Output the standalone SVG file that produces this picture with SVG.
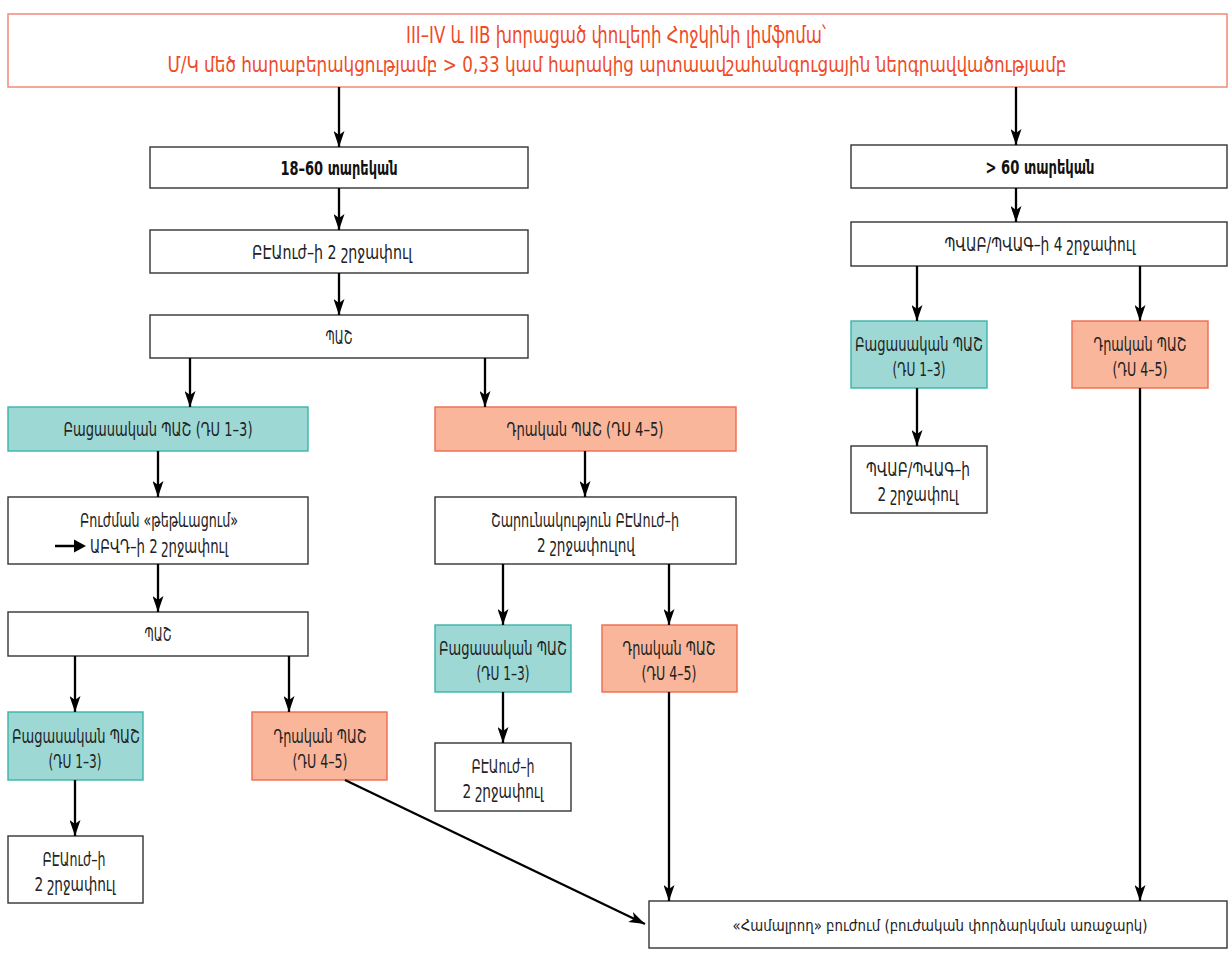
<svg xmlns="http://www.w3.org/2000/svg" width="1228" height="975" viewBox="0 0 1228 975">
<style>
text{font-family:"DejaVu Sans Condensed","DejaVu Sans","Noto Sans",sans-serif;font-size:20px;fill:#222;text-anchor:middle}
.t{fill:#ee4b28;font-size:23px}
.t2{fill:#ee4b28;font-size:21px}
.b{font-weight:bold;fill:#111;font-size:20px}
.s{font-size:16px}
.w{fill:#fff;stroke:#333;stroke-width:1.4}
.g{fill:#9dd8d4;stroke:#3ab5aa;stroke-width:1.4}
.r{fill:#f9b69b;stroke:#ef6a4c;stroke-width:1.4}
.c line{stroke:#000;stroke-width:2.3;marker-end:url(#ah)}
</style>
<defs>
<marker id="ah" viewBox="0 0 16 11" refX="16" refY="5.5" markerWidth="16" markerHeight="11" markerUnits="userSpaceOnUse" orient="auto">
<path d="M0,0 L16,5.5 L0,11 L4,5.5 Z" fill="#000"/>
</marker>
</defs>
<rect width="1228" height="975" fill="#fff"/>

<g id="title">
<rect x="8" y="14" width="1219" height="73" fill="#fff" stroke="#f08b79" stroke-width="1.5"/>
<text class="t" x="616" y="43" textLength="420" lengthAdjust="spacingAndGlyphs">III–IV և IIB խորացած փուլերի Հոջկինի լիմֆոմա՝</text>
<text class="t2" x="617" y="72" textLength="899" lengthAdjust="spacingAndGlyphs">Մ/Կ մեծ հարաբերակցությամբ &gt; 0,33 կամ հարակից արտաավշահանգուցային ներգրավվածությամբ</text>
</g>

<g id="n-18-60">
<rect class="w" x="150" y="147" width="378" height="41"/>
<text class="b" x="339" y="175" textLength="117" lengthAdjust="spacingAndGlyphs">18–60 տարեկան</text>
</g>
<g id="n-beacopp4">
<rect class="w" x="150" y="230" width="378" height="43"/>
<text x="332" y="259" textLength="160" lengthAdjust="spacingAndGlyphs">ԲԷԱուժ–ի 2 շրջափուլ</text>
</g>
<g id="n-pet1">
<rect class="w" x="150" y="315" width="378" height="43"/>
<text x="339" y="344" textLength="27" lengthAdjust="spacingAndGlyphs">ՊԱՇ</text>
</g>
<g id="n-neg1">
<rect class="g" x="8" y="407" width="300" height="44"/>
<text x="158" y="436" textLength="189" lengthAdjust="spacingAndGlyphs">Բացասական ՊԱՇ (ԴՍ 1–3)</text>
</g>
<g id="n-pos1">
<rect class="r" x="435" y="407" width="301" height="44"/>
<text x="585" y="436" textLength="157" lengthAdjust="spacingAndGlyphs">Դրական ՊԱՇ (ԴՍ 4–5)</text>
</g>
<g id="n-deesc">
<rect class="w" x="8" y="497" width="300" height="67"/>
<text x="159" y="527" textLength="158" lengthAdjust="spacingAndGlyphs">Բուժման «թեթևացում»</text>
<line x1="55" y1="546" x2="76" y2="546" stroke="#000" stroke-width="2.5"/>
<path d="M74,539.5 L86,546 L74,552.5 Z" fill="#000"/>
<text x="159" y="553" textLength="138" lengthAdjust="spacingAndGlyphs">ԱԲՎԴ–ի 2 շրջափուլ</text>
</g>
<g id="n-pet2">
<rect class="w" x="8" y="612" width="300" height="44"/>
<text x="158" y="641" textLength="27" lengthAdjust="spacingAndGlyphs">ՊԱՇ</text>
</g>
<g id="n-neg2">
<rect class="g" x="8" y="712" width="135" height="68"/>
<text x="76" y="743" textLength="128" lengthAdjust="spacingAndGlyphs">Բացասական ՊԱՇ</text>
<text x="75" y="768" textLength="53" lengthAdjust="spacingAndGlyphs">(ԴՍ 1–3)</text>
</g>
<g id="n-pos2">
<rect class="r" x="252" y="712" width="135" height="68"/>
<text x="320" y="743" textLength="93" lengthAdjust="spacingAndGlyphs">Դրական ՊԱՇ</text>
<text x="320" y="768" textLength="55" lengthAdjust="spacingAndGlyphs">(ԴՍ 4–5)</text>
</g>
<g id="n-beacopp2a">
<rect class="w" x="8" y="836" width="135" height="67"/>
<text x="74" y="866" textLength="63" lengthAdjust="spacingAndGlyphs">ԲԷԱուժ–ի</text>
<text x="75" y="891" textLength="81" lengthAdjust="spacingAndGlyphs">2 շրջափուլ</text>
</g>
<g id="n-cont">
<rect class="w" x="435" y="497" width="301" height="67"/>
<text x="585" y="527" textLength="188" lengthAdjust="spacingAndGlyphs">Շարունակություն ԲԷԱուժ–ի</text>
<text x="586" y="552" textLength="98" lengthAdjust="spacingAndGlyphs">2 շրջափուլով</text>
</g>
<g id="n-neg3">
<rect class="g" x="435" y="625" width="136" height="67"/>
<text x="503" y="655" textLength="128" lengthAdjust="spacingAndGlyphs">Բացասական ՊԱՇ</text>
<text x="503" y="680" textLength="53" lengthAdjust="spacingAndGlyphs">(ԴՍ 1–3)</text>
</g>
<g id="n-pos3">
<rect class="r" x="602" y="625" width="135" height="67"/>
<text x="669" y="655" textLength="93" lengthAdjust="spacingAndGlyphs">Դրական ՊԱՇ</text>
<text x="669" y="680" textLength="55" lengthAdjust="spacingAndGlyphs">(ԴՍ 4–5)</text>
</g>
<g id="n-beacopp2b">
<rect class="w" x="435" y="743" width="136" height="68"/>
<text x="503" y="773" textLength="63" lengthAdjust="spacingAndGlyphs">ԲԷԱուժ–ի</text>
<text x="503" y="798" textLength="81" lengthAdjust="spacingAndGlyphs">2 շրջափուլ</text>
</g>
<g id="n-60plus">
<rect class="w" x="851" y="145" width="376" height="43"/>
<text class="b" x="1040" y="174" textLength="109" lengthAdjust="spacingAndGlyphs">&gt; 60 տարեկան</text>
</g>
<g id="n-pvab4">
<rect class="w" x="851" y="222" width="376" height="44"/>
<text x="1040" y="251" textLength="191" lengthAdjust="spacingAndGlyphs">ՊՎԱԲ/ՊՎԱԳ–ի 4 շրջափուլ</text>
</g>
<g id="n-neg4">
<rect class="g" x="851" y="321" width="136" height="67"/>
<text x="919" y="351" textLength="128" lengthAdjust="spacingAndGlyphs">Բացասական ՊԱՇ</text>
<text x="919" y="376" textLength="53" lengthAdjust="spacingAndGlyphs">(ԴՍ 1–3)</text>
</g>
<g id="n-pos4">
<rect class="r" x="1072" y="321" width="136" height="67"/>
<text x="1140" y="351" textLength="93" lengthAdjust="spacingAndGlyphs">Դրական ՊԱՇ</text>
<text x="1140" y="376" textLength="55" lengthAdjust="spacingAndGlyphs">(ԴՍ 4–5)</text>
</g>
<g id="n-pvab2">
<rect class="w" x="851" y="446" width="136" height="67"/>
<text x="918" y="476" textLength="104" lengthAdjust="spacingAndGlyphs">ՊՎԱԲ/ՊՎԱԳ–ի</text>
<text x="918" y="501" textLength="81" lengthAdjust="spacingAndGlyphs">2 շրջափուլ</text>
</g>
<g id="n-consol">
<rect class="w" x="649" y="901" width="578" height="47"/>
<text class="s" x="940" y="931" textLength="415" lengthAdjust="spacingAndGlyphs">«Համալրող» բուժում (բուժական փորձարկման առաջարկ)</text>
</g>

<g id="connectors" class="c">
<line x1="339" y1="87" x2="339" y2="147"/>
<line x1="1016" y1="87" x2="1016" y2="145"/>
<line x1="339" y1="188" x2="339" y2="230"/>
<line x1="339" y1="273" x2="339" y2="315"/>
<line x1="190" y1="358" x2="190" y2="407"/>
<line x1="485" y1="358" x2="485" y2="407"/>
<line x1="158" y1="451" x2="158" y2="497"/>
<line x1="585" y1="451" x2="585" y2="497"/>
<line x1="158" y1="564" x2="158" y2="612"/>
<line x1="75" y1="656" x2="75" y2="712"/>
<line x1="289" y1="656" x2="289" y2="712"/>
<line x1="75" y1="780" x2="75" y2="836"/>
<line x1="503" y1="564" x2="503" y2="625"/>
<line x1="669" y1="564" x2="669" y2="625"/>
<line x1="503" y1="692" x2="503" y2="743"/>
<line x1="669" y1="692" x2="669" y2="901"/>
<line x1="1016" y1="188" x2="1016" y2="222"/>
<line x1="917" y1="266" x2="917" y2="321"/>
<line x1="1140" y1="266" x2="1140" y2="321"/>
<line x1="917" y1="388" x2="917" y2="446"/>
<line x1="1140" y1="388" x2="1140" y2="901"/>
<line x1="345" y1="780" x2="645" y2="924"/>
</g>
</svg>
